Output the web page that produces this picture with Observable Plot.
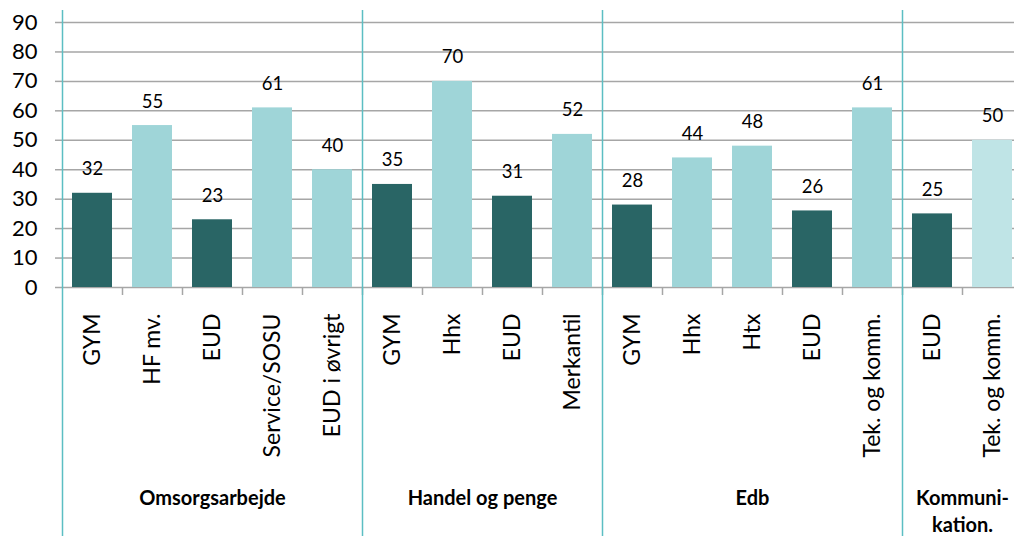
<!DOCTYPE html>
<html><head><meta charset="utf-8">
<script src="https://cdn.jsdelivr.net/npm/d3@7"></script>
<script src="https://cdn.jsdelivr.net/npm/@observablehq/plot@0.6"></script>
<style>html,body{margin:0;padding:0;overflow:hidden;background:#fff}</style>
</head><body><div id="chart"></div>
<script>
const categories = ["GYM","HF mv.","EUD","Service/SOSU","EUD i øvrigt","GYM","Hhx","EUD","Merkantil","GYM","Hhx","Htx","EUD","Tek. og komm.","EUD","Tek. og komm."];
const values = [32,55,23,61,40,35,70,31,52,28,44,48,26,61,25,50];
const shades = ["dark","light","dark","light","light","dark","light","dark","light","dark","light","light","dark","light","dark","pale"];
const groups = ["Omsorgsarbejde","Handel og penge","Edb","Kommuni-\nkation."];
const groupStarts = [0,5,9,14];
const groupEnds = [5,9,14,16];
const yTicks = [0,10,20,30,40,50,60,70,80,90];
const xBoundaries = [1,2,3,4,5,6,7,8,9,10,11,12,13,14,15];

const colors = {dark:"#296565", light:"#9fd5d8", pale:"#bfe4e6"};
const bars = categories.map((c,i)=>({i, label:c, value:values[i], fill:colors[shades[i]]}));
const groupRows = groups.map((g,k)=>({name:g, start:groupStarts[k], end:groupEnds[k]}));
const teal = "#5cbec3";
const grey = "#a6a6a6";

const plot = Plot.plot({
  width:1014, height:536, marginLeft:62, marginRight:0, marginTop:22, marginBottom:249,
  style:{fontFamily:"Lato, sans-serif", background:"#fff", color:"#000"},
  x:{domain:[0,16], range:[62,1022], axis:null},
  y:{domain:[0,90], axis:null},
  marks:[
    Plot.gridY(yTicks, {stroke:grey, strokeOpacity:1, strokeWidth:1.5}),
    Plot.axisY(yTicks, {tickSize:7, tickPadding:18, stroke:grey, strokeWidth:1.5, fontSize:22, fill:"#000", label:null}),
    Plot.axisX(xBoundaries, {tickSize:8, tickFormat:()=>"", stroke:grey, strokeWidth:1.5, label:null}),
    Plot.rectY(bars, {x1:"i", x2:d=>d.i+1, y1:0, y2:"value", fill:"fill", insetLeft:10, insetRight:10}),
    Plot.ruleX([...groupStarts, 16], {stroke:teal, strokeWidth:1.5, insetTop:-12, insetBottom:-260}),
    Plot.text(bars, {x:d=>d.i+0.5, y:"value", text:d=>String(d.value), dy:-18, lineAnchor:"bottom", fontSize:18.5, fill:"#000"}),
    Plot.text(bars, {x:d=>d.i+0.5, text:"label", frameAnchor:"bottom", dy:26, rotate:-90, textAnchor:"end", lineAnchor:"middle", fontSize:23, fill:"#000"}),
    Plot.text(groupRows, {x:d=>(d.start+d.end)/2, text:"name", frameAnchor:"bottom", dy:198, lineAnchor:"top", fontWeight:"bold", fontSize:20, lineHeight:1.35, fill:"#000"})
  ]
});
document.getElementById("chart").appendChild(plot);
</script></body></html>
